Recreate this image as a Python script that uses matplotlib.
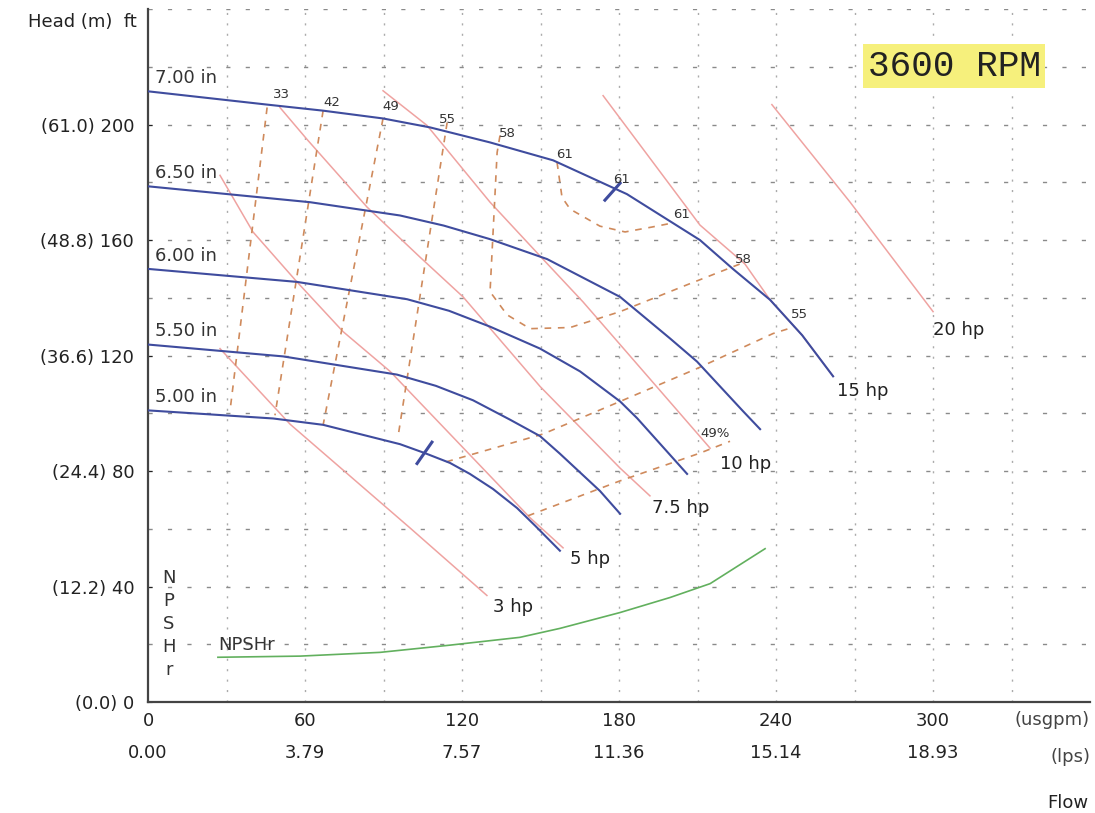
import matplotlib
matplotlib.use('Agg')
import matplotlib.pyplot as plt

# impeller curves (flow usgpm, head ft)
imp_names = ['7.00 in', '6.50 in', '6.00 in', '5.50 in', '5.00 in']
imp_q = [
    [0, 45.5, 66.9, 89.8, 107.8, 130.7, 154.8, 183, 210.9, 223.5, 237.7, 250, 261.8],
    [0, 61.9, 96.3, 113, 130.7, 152.5, 180.4, 199.5, 209.8, 227.4, 233.9],
    [0, 56.9, 99, 115, 130.7, 149.8, 165.1, 180.4, 186.9, 206],
    [0, 51.6, 95.1, 110, 124.2, 138.3, 149.8, 157.4, 172.7, 180.4],
    [0, 47.8, 66.9, 96.3, 105.8, 115.4, 123, 131.8, 141, 148, 157.4],
]
imp_h = [
    [211.5, 206.9, 204.8, 202.1, 199, 193.8, 187.6, 175.9, 160, 150, 139.3, 127, 112.8],
    [178.6, 173.1, 168.5, 165, 160.3, 153.4, 140.3, 125.9, 117.9, 100.7, 94.5],
    [150, 145.5, 139.5, 135.5, 130, 122.4, 114.5, 104.1, 98.3, 79],
    [123.8, 119.7, 113.4, 109.5, 104.5, 97.8, 92.1, 86, 73.1, 65.2],
    [101, 98.2, 96, 89.3, 86.2, 82.8, 79, 73.8, 67.2, 61, 52.4],
]

# power lines
hp_names = ['3 hp', '5 hp', '7.5 hp', '10 hp', '15 hp', '20 hp']
hp_q = [
    [27.5, 54.3, 100.1, 129.5],
    [27.5, 40.1, 56.9, 74.5, 92.5, 146, 158.6],
    [50.4, 60.8, 83.7, 103.9, 120.4, 149.8, 180.4, 191.8],
    [89.8, 106.6, 130.7, 150.9, 166.2, 180.4, 214.8],
    [173.9, 210.9, 228.1, 237.7, 250, 261.8],
    [238.4, 268.3, 300],
]
hp_h = [
    [122.4, 96.2, 60.3, 36.9],
    [182.4, 162.8, 145.5, 128.3, 114.5, 63.8, 53.4],
    [205.9, 194.8, 171.4, 154.1, 140.3, 109.3, 81, 71.4],
    [211.7, 199.7, 173.1, 153.4, 138.6, 123.8, 87.9],
    [210, 165.2, 151.7, 139.3, 127, 112.8],
    [206.9, 173.1, 135.2],
]
hp_label_q = [132, 161.3, 192.6, 218.6, 263.3, 300]
hp_label_h = [32.8, 49.7, 67.2, 82.4, 107.6, 129]

# efficiency contours
eff_q = [
    [45.5, 31.3],
    [66.9, 48.5],
    [89.8, 66.9],
    [114.3, 95.5],
    [134.5, 133.4, 130.7, 137.2, 146, 161.3, 180.4, 206, 226.2],
    [156.3, 158.2, 161.3, 172.7, 182.3, 192.6, 201],
    [114, 150.9, 180.4, 209.8, 238.8, 247.2],
    [145.2, 180.4, 210.9, 222.4],
]
eff_h = [
    [205.9, 100.7],
    [204.8, 99.3],
    [202.1, 95.9],
    [200.7, 91.7],
    [196.2, 190.3, 142.1, 134.1, 129.3, 129.7, 135.2, 144.5, 151.7],
    [186.9, 174.8, 170.7, 164.8, 162.8, 164.5, 166],
    [83.2, 92.8, 104.1, 115.5, 127.6, 130],
    [64.5, 76.6, 86.2, 90.3],
]
eff_labels = ['33', '42', '49', '55', '58', '61', '61', '61', '58', '55', '49%']
eff_label_q = [51.0, 70.3, 92.9, 114.3, 137.2, 159.3, 181.1, 204, 227.4, 249.1, 216.7]
eff_label_h = [210.3, 207.6, 206.2, 201.7, 196.9, 189.7, 181, 169, 153.4, 134.1, 93.1]

# best efficiency markers
bep_q = [[174.6, 180.4], [102.8, 108.5]]
bep_h = [[173.8, 179.7], [82.6, 90.0]]

# NPSHr
npsh_q = [26.7, 58.1, 88.7, 115.4, 142.1, 157.4, 180.4, 199.5, 214.8, 235.8]
npsh_h = [15.5, 15.9, 17.2, 19.7, 22.4, 25.5, 31, 36.2, 41, 53.1]

x_ticks = [0, 60, 120, 180, 240, 300]
y_ticks = [0, 40, 80, 120, 160, 200]

plt.rcParams['font.family'] = ['DejaVu Sans']
txt = '#222222'
blue = '#3f4c9e'
red = '#efa3a1'
orange = '#cf8a5c'

fig = plt.figure(figsize=(10.95, 8.13), dpi=100)
ax = fig.add_axes([0.1352, 0.1365, 0.8603, 0.8524])
ax.set_xlim(0, 360)
ax.set_ylim(0, 240)

# grid
for gx in range(30, 360, 30):
    ax.axvline(gx, color='#ababab', lw=1, ls=(0, (1.5, 6)), zorder=0)
for gy in range(20, 241, 20):
    ax.axhline(gy, color='#8a8a8a', lw=1, ls=(0, (3, 11)), zorder=0)

for q, h in zip(hp_q, hp_h):
    ax.plot(q, h, color=red, lw=1.1, zorder=2)
for name, q, h in zip(hp_names, hp_label_q, hp_label_h):
    ax.text(q, h, name, fontsize=13, color=txt, ha='left', va='center', zorder=6)

for q, h in zip(eff_q, eff_h):
    ax.plot(q, h, color=orange, lw=1.2, ls=(0, (4, 4)), zorder=3)
for s, q, h in zip(eff_labels, eff_label_q, eff_label_h):
    ax.text(q, h, s, fontsize=9.5, color='#333333', ha='center', va='center', zorder=6)

for name, q, h in zip(imp_names, imp_q, imp_h):
    ax.plot(q, h, color=blue, lw=1.5, zorder=4)
    ax.text(q[0] + 2.5, h[0] + 1.5, name, fontsize=13, color='#333333',
            ha='left', va='bottom', zorder=6)

for q, h in zip(bep_q, bep_h):
    ax.plot(q, h, color=blue, lw=2.2, zorder=5)

ax.plot(npsh_q, npsh_h, color='#62b05e', lw=1.2, zorder=4)
ax.text(npsh_q[0], npsh_h[0] + 1, 'NPSHr', fontsize=13, color='#333333',
        ha='left', va='bottom', zorder=6)
ax.text(8, 27, 'N\nP\nS\nH\nr', fontsize=13, color='#333333', ha='center',
        va='center', multialignment='center', linespacing=1.35)

# axes styling
for side in ['top', 'right']:
    ax.spines[side].set_visible(False)
for side in ['left', 'bottom']:
    ax.spines[side].set_color('#444444')
    ax.spines[side].set_linewidth(1.6)
ax.set_yticks(y_ticks)
ax.set_yticklabels(['(%.1f) %d' % (v * 0.3048, v) for v in y_ticks])
ax.set_xticks(x_ticks)
ax.set_xticklabels(['%d\n%.2f' % (v, v * 0.0630902) for v in x_ticks])
ax.tick_params(axis='y', length=3, direction='in', pad=10, labelsize=13, colors=txt)
ax.tick_params(axis='x', length=0, pad=7, labelsize=13, colors=txt)
plt.setp(ax.get_xticklabels(), linespacing=2.05)

fig.text(137 / 1095, 1 - 22 / 813, 'Head (m)  ft', fontsize=13, color=txt,
         ha='right', va='center')
fig.text(1090 / 1095, 1 - 720 / 813, '(usgpm)', fontsize=13, color='#444444',
         ha='right', va='center')
fig.text(1090 / 1095, 1 - 757 / 813, '(lps)', fontsize=13, color='#444444',
         ha='right', va='center')
fig.text(1088 / 1095, 1 - 803 / 813, 'Flow', fontsize=13, color=txt,
         ha='right', va='center')
fig.text(954 / 1095, 1 - 66 / 813, '3600 RPM', fontsize=26, color='#222222',
         family='Liberation Mono', ha='center', va='center',
         bbox=dict(boxstyle='square,pad=0.12', fc='#f6f07c', ec='none'))

fig.savefig('out.png', dpi=100)
